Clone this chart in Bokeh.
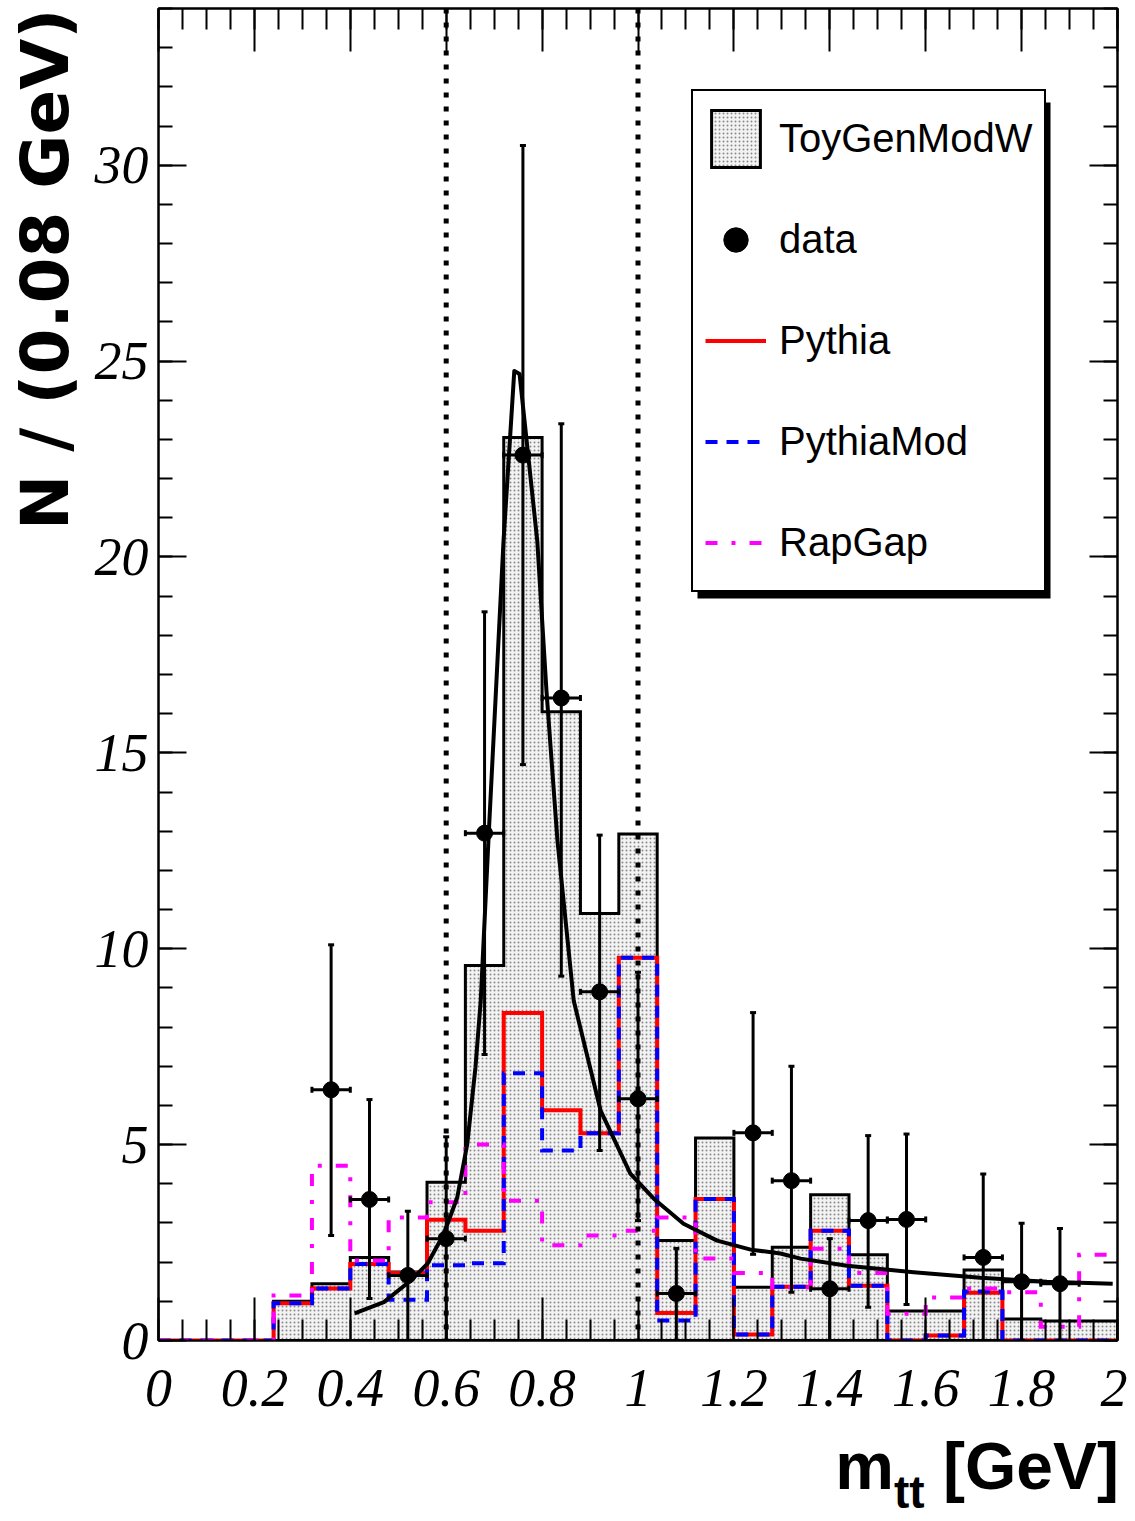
from bokeh.plotting import figure
from bokeh.layouts import column
from bokeh.models import (ColumnDataSource, Whisker, TeeHead, Span, Legend, LegendItem,
                          FixedTicker, LinearAxis, Range1d, CustomJSTickFormatter, Title, Div)
from bokeh.embed import file_html
from bokeh.resources import INLINE

# ---------------- data ----------------
bin_centers = [0.04, 0.12, 0.20, 0.28, 0.36, 0.44, 0.52, 0.60, 0.68, 0.76, 0.84, 0.92, 1.00,
               1.08, 1.16, 1.24, 1.32, 1.40, 1.48, 1.56, 1.64, 1.72, 1.80, 1.88, 1.96]
bin_width = 0.08

toygen = [0, 0, 0, 1.0, 1.45, 2.12, 1.75, 4.04, 9.57, 23.05, 16.05, 10.9, 12.93,
          2.55, 5.17, 1.36, 2.38, 3.72, 2.19, 0.75, 0.75, 1.8, 0.55, 0.5, 0.5]
pythia = [0, 0, 0, 0.95, 1.33, 1.95, 1.72, 3.08, 2.8, 8.36, 5.88, 5.29, 9.77,
          0.7, 3.61, 0.15, 1.37, 2.8, 1.4, 0.0, 0.13, 1.22, 0, 0, 0]
pythiamod = [0, 0, 0, 0.95, 1.33, 1.95, 1.04, 1.92, 1.97, 6.82, 4.85, 5.29, 9.77,
             0.51, 3.61, 0.15, 1.37, 2.8, 1.4, 0.0, 0.13, 1.25, 0, 0, 0]
rapgap = [0, 0, 0, 1.15, 4.46, 2.04, 3.14, 3.53, 5.0, 3.57, 2.43, 2.68, 2.8,
          3.14, 2.09, 1.72, 1.35, 2.34, 1.72, 0.68, 1.1, 1.33, 1.23, 0.35, 2.19]

data_x = [0.36, 0.44, 0.52, 0.60, 0.68, 0.76, 0.84, 0.92, 1.00, 1.08, 1.24, 1.32,
          1.40, 1.48, 1.56, 1.72, 1.80, 1.88]
data_y = [6.4, 3.6, 1.66, 2.6, 12.95, 22.6, 16.4, 8.9, 6.17, 1.2, 5.3, 4.08,
          1.32, 3.06, 3.09, 2.12, 1.5, 1.45]
data_up = [10.1, 6.15, 3.3, 5.2, 18.6, 30.5, 23.4, 12.9, 9.4, 2.35, 8.37, 7.0,
           2.6, 5.23, 5.27, 4.25, 2.99, 2.86]
data_lo = [2.68, 1.07, 0, 0, 7.3, 14.7, 9.3, 4.85, 3.06, 0, 2.2, 1.23,
           0, 0.85, 0.92, 0, 0, 0]

fit_x = [0.409, 0.47, 0.526, 0.561, 0.595, 0.623, 0.644, 0.661, 0.672, 0.689, 0.7195,
         0.742, 0.753, 0.790, 0.809, 0.832, 0.866, 0.922, 0.984, 1.033, 1.095, 1.165,
         1.235, 1.297, 1.339, 1.436, 1.575, 1.714, 1.853, 1.99]
fit_y = [0.69, 0.98, 1.53, 1.96, 2.72, 3.65, 5.02, 6.97, 8.67, 13.0, 20.4,
         24.75, 24.67, 20.4, 16.6, 12.76, 8.67, 5.87, 4.26, 3.62, 2.98, 2.55,
         2.32, 2.22, 2.09, 1.91, 1.74, 1.60, 1.50, 1.45]

cut_lines = [0.6, 1.0]

x_major = [0, 0.2, 0.4, 0.6, 0.8, 1.0, 1.2, 1.4, 1.6, 1.8, 2.0]
y_major = [0, 5, 10, 15, 20, 25, 30]

# ---------------- figure ----------------
p = figure(width=1127, height=1430, x_range=Range1d(0, 2), y_range=Range1d(0, 34),
           output_backend="svg", toolbar_location=None,
           min_border_left=158, min_border_right=10, min_border_top=8, min_border_bottom=90)
p.xgrid.visible = False
p.ygrid.visible = False
p.outline_line_color = "black"
p.outline_line_width = 2
p.background_fill_color = "white"
p.border_fill_color = "white"

x_minor = [i * 0.05 for i in range(41)]
y_minor = list(range(35))
fmt = CustomJSTickFormatter(code="return (Math.round(tick*10)/10).toString();")

xax = p.xaxis[0]
xax.ticker = FixedTicker(ticks=x_major, minor_ticks=x_minor)
xax.formatter = fmt
yax = p.yaxis[0]
yax.ticker = FixedTicker(ticks=y_major, minor_ticks=y_minor)
yax.formatter = fmt

top_ax = LinearAxis(ticker=FixedTicker(ticks=x_major, minor_ticks=x_minor))
right_ax = LinearAxis(ticker=FixedTicker(ticks=y_major, minor_ticks=y_minor))
p.add_layout(top_ax, "above")
p.add_layout(right_ax, "right")

for ax, mj, mn in [(xax, 43, 21), (top_ax, 43, 21), (yax, 28, 14), (right_ax, 28, 14)]:
    ax.major_tick_in = mj
    ax.major_tick_out = 0
    ax.minor_tick_in = mn
    ax.minor_tick_out = 0
    ax.major_tick_line_width = 2
    ax.minor_tick_line_width = 2
    ax.major_tick_line_color = "black"
    ax.minor_tick_line_color = "black"
    ax.axis_line_width = 2
    ax.axis_line_color = "black"

for ax in (xax, yax):
    ax.major_label_text_font = "Liberation Serif"
    ax.major_label_text_font_style = "italic"
    ax.major_label_text_font_size = "54px"
    ax.major_label_text_color = "black"
xax.major_label_standoff = 29
yax.major_label_standoff = 10

for ax in (top_ax, right_ax):
    ax.major_label_text_color = None
    ax.major_label_text_font_size = "1px"
    ax.major_label_standoff = 0

# y-axis title (ROOT style: right-aligned at the top)
p.add_layout(Title(text="N / (0.08 GeV)", align="right", vertical_align="top",
                   text_font="DejaVu Sans", text_font_style="bold",
                   text_font_size="66px", text_color="black", standoff=11), "left")

# ---------------- histograms ----------------
lefts = [c - bin_width / 2 for c in bin_centers]
rights = [c + bin_width / 2 for c in bin_centers]


def step_xy(vals):
    xs, ys = [], []
    for lo, hi, v in zip(lefts, rights, vals):
        xs += [lo, hi]
        ys += [v, v]
    return xs, ys


tx, ty = step_xy(toygen)
r_toy = p.patch([lefts[0]] + tx + [rights[-1]], [0] + ty + [0],
                fill_color="#f3f3f3", hatch_pattern=".", hatch_color="#8a8a8a",
                hatch_scale=4, hatch_weight=1,
                line_color="black", line_width=3, line_join="miter")

px_, py_ = step_xy(pythia)
r_py = p.line(px_, py_, line_color="#ff0000", line_width=4, line_join="miter")
mx_, my_ = step_xy(pythiamod)
r_pm = p.line(mx_, my_, line_color="#0000ff", line_width=4, line_dash="12 9",
              line_join="miter")
rx_, ry_ = step_xy(rapgap)
r_rg = p.line(rx_, ry_, line_color="#ff00ff", line_width=4, line_dash="12 14 4 14",
              line_join="miter")

# ---------------- data with errors ----------------
dsrc = ColumnDataSource(dict(x=data_x, y=data_y, up=data_up, lo=data_lo,
                             xl=[v - bin_width / 2 for v in data_x],
                             xr=[v + bin_width / 2 for v in data_x]))
r_data = p.scatter("x", "y", source=dsrc, size=16, color="black")
p.add_layout(Whisker(base="x", upper="up", lower="lo", source=dsrc, line_color="black",
                     line_width=3, level="annotation",
                     upper_head=TeeHead(size=6, line_width=3, line_color="black"),
                     lower_head=TeeHead(size=6, line_width=3, line_color="black")))
p.add_layout(Whisker(base="y", upper="xr", lower="xl", dimension="width", source=dsrc,
                     line_color="black", line_width=3, level="annotation",
                     upper_head=TeeHead(size=6, line_width=3, line_color="black"),
                     lower_head=TeeHead(size=6, line_width=3, line_color="black")))

# ---------------- fit curve ----------------
p.line(fit_x, fit_y, line_color="black", line_width=4, line_join="round")

# ---------------- cut lines ----------------
for xc in cut_lines:
    p.add_layout(Span(location=xc, dimension="height", line_color="black",
                      line_width=5, line_dash="5 9"))

# ---------------- legend ----------------
# drop shadow behind the legend box
p.quad(left=[1.1241], right=[1.8603], top=[31.60], bottom=[18.94], fill_color="black",
       line_color=None)

legend = Legend(items=[
    LegendItem(label="ToyGenModW", renderers=[r_toy]),
    LegendItem(label="data", renderers=[r_data]),
    LegendItem(label="Pythia", renderers=[r_py]),
    LegendItem(label="PythiaMod", renderers=[r_pm]),
    LegendItem(label="RapGap", renderers=[r_rg]),
], location=(533, 748), orientation="vertical", glyph_width=61, glyph_height=71,
    spacing=30, padding=12, label_standoff=13, margin=0,
    label_text_font="Liberation Sans", label_text_font_size="40px",
    label_text_color="black", border_line_color="black", border_line_width=2,
    border_line_alpha=1.0, background_fill_color="white", background_fill_alpha=1.0)
p.add_layout(legend)

# ---------------- x-axis title (with subscript) ----------------
xtitle_html = (
    '<div style="position:relative;width:1127px;height:89px;overflow:hidden;">'
    '<span style="position:absolute;right:8px;top:3px;'
    "font-family:'Liberation Sans',Arial,sans-serif;font-weight:bold;"
    'font-size:66px;line-height:66px;white-space:nowrap;color:#000;">'
    'm<span style="font-size:46px;line-height:46px;position:relative;top:19px;">tt</span>'
    ' [GeV]</span></div>'
)
xtitle = Div(text=xtitle_html, width=1127, height=89, margin=0)

layout = column(p, xtitle, spacing=0)

open("out.html", "w").write(file_html(layout, INLINE))
